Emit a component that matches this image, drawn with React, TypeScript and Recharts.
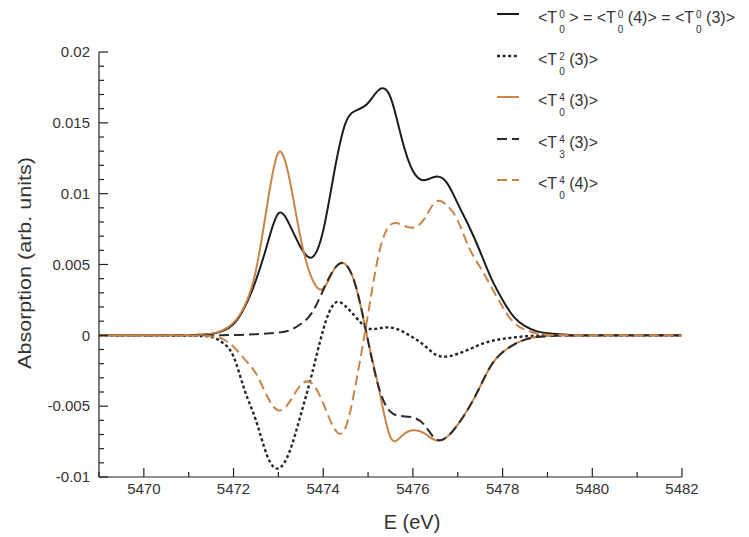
import { LineChart, Line, XAxis, YAxis, Legend } from 'recharts';

// Absorption values are in units of 1e-3 (tick labels are divided by 1000)
const energy = [
  5469, 5470, 5471, 5471.25, 5471.5, 5471.75, 5472, 5472.25, 5472.5, 5472.75, 5473, 5473.25, 5473.5, 5473.75,
  5474, 5474.25, 5474.5, 5474.75, 5475, 5475.25, 5475.5, 5475.75, 5476, 5476.25, 5476.5,
  5476.75, 5477, 5477.25, 5477.5, 5477.75, 5478, 5478.25, 5478.5, 5478.75, 5479, 5479.25, 5479.5, 5480, 5481, 5482,
];
const tTotal = [
  0, 0, 0.01, 0.04, 0.1, 0.3, 0.8, 2.0, 3.9, 6.4, 8.6, 7.8, 6.2, 5.5,
  7.4, 11.6, 15.0, 15.9, 16.4, 17.35, 16.8, 13.9, 11.6, 10.95, 11.2,
  10.8, 9.3, 7.7, 5.9, 4.0, 2.5, 1.3, 0.65, 0.3, 0.14, 0.07, 0.03, 0.01, 0, 0,
];
const t20_3 = [
  0, 0, -0.02, -0.05, -0.1, -0.5, -1.5, -3.9, -6.0, -8.5, -9.4, -8.2, -5.6, -2.7,
  0.4, 2.25, 2.05, 1.2, 0.5, 0.5, 0.55, 0.3, -0.15, -0.7, -1.35,
  -1.5, -1.3, -1.0, -0.65, -0.4, -0.25, -0.15, -0.07, -0.03, 0, 0, 0, 0, 0, 0,
];
const t40_3 = [
  0, 0, 0.02, 0.05, 0.12, 0.35, 0.9, 2.1, 4.6, 9.2, 12.9, 11.0, 6.8, 4.0,
  3.3, 4.7, 5.0, 3.2, -0.4, -3.9, -7.2, -7.1, -6.7, -6.9, -7.4,
  -7.2, -6.3, -5.1, -3.6, -2.1, -1.2, -0.65, -0.3, -0.12, -0.05, -0.02, -0.01, 0, 0, 0,
];
const t43_3 = [
  0, 0, 0, 0, 0, 0.01, 0.02, 0.04, 0.08, 0.13, 0.2, 0.35, 0.8, 1.6,
  3.2, 4.7, 5.0, 3.2, -0.4, -3.8, -5.4, -5.7, -5.8, -6.3, -7.3,
  -7.2, -6.3, -5.1, -3.6, -2.1, -1.2, -0.65, -0.3, -0.12, -0.05, -0.02, -0.01, 0, 0, 0,
];
const t40_4 = [
  0, 0, -0.01, -0.03, -0.06, -0.25, -0.8, -1.7, -2.7, -4.3, -5.3, -4.7, -3.5, -3.4,
  -4.8, -6.6, -6.5, -3.0, 1.5, 5.9, 7.8, 7.8, 7.6, 8.2, 9.4,
  9.2, 8.1, 6.2, 4.8, 3.4, 2.0, 0.9, 0.4, 0.15, 0.05, 0.02, 0.01, 0, 0, 0,
];

const xTicks = [5469, 5470, 5471, 5472, 5473, 5474, 5475, 5476, 5477, 5478, 5479, 5480, 5481, 5482];
const yTicks = [
  -10, -9, -8, -7, -6, -5, -4, -3, -2, -1, 0, 1, 2, 3, 4, 5, 6, 7, 8, 9, 10,
  11, 12, 13, 14, 15, 16, 17, 18, 19, 20,
];

// legend: [rank, projection, argument] parts, joined by " = "
const legendLabels = [
  [['0', '0', ''], ['0', '0', '(4)'], ['0', '0', '(3)']],
  [['2', '0', '(3)']],
  [['4', '0', '(3)']],
  [['4', '3', '(3)']],
  [['4', '0', '(4)']],
];

const BLACK = '#1c1c1c';
const ORANGE = '#c98548';
const FONT = '"Liberation Sans", Arial, sans-serif';
const PLOT_LEFT = 99;
const PLOT_BOTTOM = 477;

const series = [
  { key: 'tTotal', color: BLACK, dash: undefined, width: 2 },
  { key: 't20_3', color: '#262626', dash: '3 2.6', width: 2.4 },
  { key: 't40_3', color: ORANGE, dash: undefined, width: 2 },
  { key: 't43_3', color: '#2a2a2a', dash: '10 5', width: 2 },
  { key: 't40_4', color: ORANGE, dash: '10 5', width: 2 },
];

const rows = energy.map((e, i) => ({
  e,
  tTotal: tTotal[i],
  t20_3: t20_3[i],
  t40_3: t40_3[i],
  t43_3: t43_3[i],
  t40_4: t40_4[i],
}));

function XTick({ x, payload }: any) {
  const v = payload.value;
  const major = v % 2 === 0;
  const y = PLOT_BOTTOM;
  return (
    <g>
      <line x1={x} y1={y} x2={x} y2={y - (major ? 9 : 5)} stroke="#222" strokeWidth={1.2} />
      {major && (
        <text x={x} y={y + 17} textAnchor="middle" fontSize={15} fontFamily={FONT} fill="#333">
          {v}
        </text>
      )}
    </g>
  );
}

function YTick({ y, payload }: any) {
  const v = payload.value;
  const major = v % 5 === 0;
  const x = PLOT_LEFT;
  return (
    <g>
      <line x1={x} y1={y} x2={x + (major ? 9 : 5)} y2={y} stroke="#222" strokeWidth={1.2} />
      {major && (
        <text x={x - 9} y={y} dy="0.35em" textAnchor="end" fontSize={15} fontFamily={FONT} fill="#333">
          {v === 0 ? '0' : String(v / 1000)}
        </text>
      )}
    </g>
  );
}

function Tens({ k, q }: { k: string; q: string }) {
  return (
    <span style={{ display: 'inline-block', position: 'relative', width: 12, height: 12 }}>
      <span style={{ position: 'absolute', left: 2, top: -5, fontSize: 10 }}>{k}</span>
      <span style={{ position: 'absolute', left: 2, top: 10, fontSize: 10 }}>{q}</span>
    </span>
  );
}

function LegendBox() {
  return (
    <div style={{ position: 'relative', width: 259, height: 200, fontFamily: FONT, fontSize: 16, color: '#333' }}>
      {series.map((s, i) => (
        <div key={s.key} style={{ position: 'absolute', left: 0, top: i * 41.5, height: 30, whiteSpace: 'nowrap' }}>
          <svg width={30} height={30} style={{ position: 'absolute', left: 7, top: 0 }}>
            <line x1={0} y1={14} x2={22} y2={14} stroke={s.color} strokeWidth={s.width} strokeDasharray={s.dash} />
          </svg>
          <div style={{ position: 'absolute', left: 48, top: 9, lineHeight: '18px' }}>
            {legendLabels[i].map((p, j) => (
              <span key={j}>
                {j > 0 ? ' = ' : ''}
                {'<T'}
                <Tens k={p[0]} q={p[1]} />
                {p[2] + '>'}
              </span>
            ))}
          </div>
        </div>
      ))}
    </div>
  );
}

const renderXLabel = () => (
  <text x={412} y={529} textAnchor="middle" fontSize={20} fontFamily={FONT} fill="#333">
    E (eV)
  </text>
);

const renderYLabel = () => (
  <text
    x={0}
    y={0}
    transform="translate(31 263) rotate(-90)"
    textAnchor="middle"
    fontSize={19}
    fontFamily={FONT}
    fill="#333"
    textLength={212}
    lengthAdjust="spacingAndGlyphs"
  >
    Absorption (arb. units)
  </text>
);

export default function App() {
  return (
    <div style={{ position: 'absolute', left: 0, top: 0, width: 749, height: 537, background: '#fff' }}>
      <LineChart width={749} height={537} data={rows} margin={{ top: 52, right: 67, bottom: 20, left: 39 }}>
        <XAxis
          dataKey="e"
          type="number"
          domain={[5469, 5482]}
          ticks={xTicks}
          height={40}
          tickSize={0}
          tickMargin={0}
          tick={<XTick />}
          stroke="#222"
          strokeWidth={1.2}
          interval={0}
          label={{ value: 'E (eV)', content: renderXLabel }}
        />
        <YAxis
          type="number"
          domain={[-10, 20]}
          ticks={yTicks}
          width={60}
          tickSize={0}
          tickMargin={0}
          tick={<YTick />}
          stroke="#222"
          strokeWidth={1.2}
          interval={0}
          allowDataOverflow
          label={{ value: 'Absorption (arb. units)', content: renderYLabel }}
        />
        <Legend
          layout="horizontal"
          verticalAlign="middle"
          align="center"
          wrapperStyle={{ position: 'absolute', left: 490, top: 0, width: 259 }}
          content={() => <LegendBox />}
        />
        {series.map((s) => (
          <Line
            key={s.key}
            dataKey={s.key}
            type="natural"
            stroke={s.color}
            strokeWidth={s.width}
            strokeDasharray={s.dash}
            dot={false}
            activeDot={false}
            isAnimationActive={false}
          />
        ))}
      </LineChart>
    </div>
  );
}
